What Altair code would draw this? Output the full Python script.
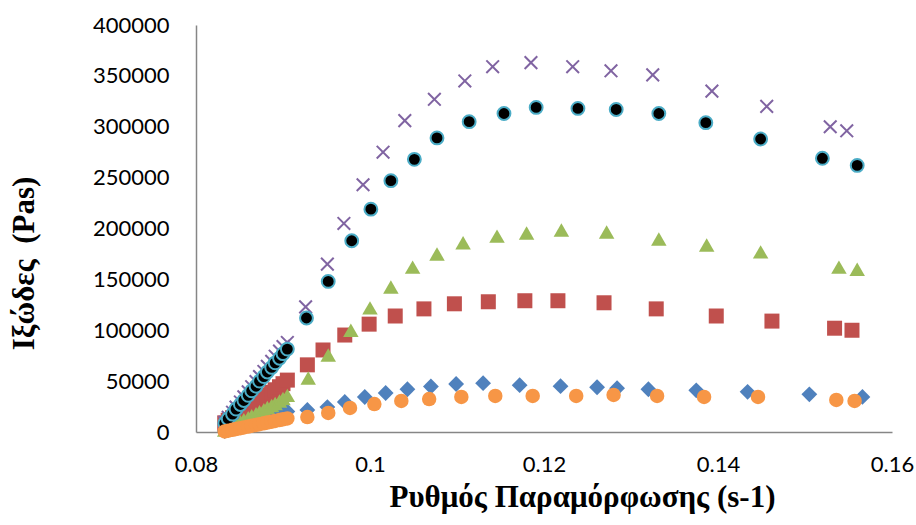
import altair as alt
import pandas as pd

# Cluster (low shear-rate) region x values, then the spread-out points
cl_x = [0.0833, 0.0837, 0.0842, 0.0846, 0.0851, 0.0855, 0.0860, 0.0864, 0.0869,
        0.0873, 0.0878, 0.0882, 0.0887, 0.0891, 0.0896, 0.0900, 0.0905]

blue_x = cl_x + [0.0928, 0.0951, 0.0971, 0.0994, 0.1018, 0.1043, 0.1070, 0.1099, 0.1130,
                 0.1172, 0.1219, 0.1261, 0.1284, 0.1320, 0.1375, 0.1434, 0.1505, 0.1566]
blue_y = [1000, 2300, 3500, 4700, 5800, 7000, 8300, 9500, 10600, 11800, 13000, 14200,
          15500, 16600, 17800, 19000, 20200] + \
         [21600, 24500, 29500, 34400, 38300, 42000, 44700, 47200, 48000,
          46000, 45000, 44000, 43000, 42000, 41000, 39500, 37000, 34500]

red_x = cl_x + [0.0928, 0.0946, 0.0971, 0.0999, 0.1029, 0.1062, 0.1097, 0.1136, 0.1178,
                0.1216, 0.1269, 0.1329, 0.1398, 0.1462, 0.1534, 0.1554]
red_y = [9000, 11500, 14000, 16500, 19000, 21500, 24000, 26500, 29000, 31500, 34000,
         36500, 39000, 41500, 44500, 47500, 51000] + \
        [66000, 80600, 95300, 106000, 114000, 121000, 126000, 128000, 129000,
         129000, 127000, 121000, 114000, 109000, 102000, 100000]

green_x = cl_x + [0.0929, 0.0952, 0.0978, 0.1000, 0.1024, 0.1049, 0.1077, 0.1107, 0.1146,
                  0.1180, 0.1220, 0.1272, 0.1332, 0.1387, 0.1449, 0.1539, 0.1560]
green_y = [2000, 4000, 6000, 8000, 10000, 12000, 14000, 16000, 18000, 20000, 22000,
           24000, 26000, 28000, 30500, 33000, 36000] + \
          [53000, 75700, 100000, 122000, 142500, 162000, 175000, 186000, 192500,
           195500, 198500, 196500, 189700, 183800, 177000, 162000, 160000]

purple_x = cl_x + [0.0926, 0.0951, 0.0970, 0.0992, 0.1015, 0.1040, 0.1074, 0.1109, 0.1141,
                   0.1185, 0.1233, 0.1277, 0.1325, 0.1393, 0.1456, 0.1529, 0.1548]
purple_y = [9500, 14500, 19500, 24500, 29500, 34500, 39500, 44500, 49500, 54500, 59500,
            64500, 69500, 74500, 79500, 84000, 88000] + \
           [123000, 165000, 205000, 243000, 275000, 306000, 327000, 345000, 359000,
            363000, 359000, 355000, 351000, 335000, 320000, 300000, 296000]

black_x = cl_x + [0.0927, 0.0952, 0.0979, 0.1001, 0.1024, 0.1051, 0.1077, 0.1114, 0.1154,
                  0.1191, 0.1239, 0.1283, 0.1332, 0.1386, 0.1449, 0.1520, 0.1560]
black_y = [8500, 13000, 17500, 22500, 27000, 31000, 36000, 40500, 45000, 50000, 54500,
           59000, 63500, 68000, 72500, 77000, 81500] + \
          [112000, 148000, 188000, 219000, 247000, 268000, 289000, 305000, 313000,
           319000, 318000, 317000, 313000, 304000, 288000, 269000, 262000]

orange_x = cl_x + [0.0928, 0.0952, 0.0977, 0.1005, 0.1036, 0.1068, 0.1105, 0.1144, 0.1187,
                   0.1237, 0.1280, 0.1330, 0.1384, 0.1446, 0.1536, 0.1557]
orange_y = [500, 1300, 2100, 2900, 3700, 4500, 5300, 6100, 6900, 7700, 8500, 9300,
            10100, 10900, 11700, 12500, 13300] + \
           [14700, 18700, 23600, 27500, 30500, 32400, 34400, 35400, 35400,
            35400, 36400, 35400, 34400, 34400, 31500, 30500]

x_ticks = [0.08, 0.1, 0.12, 0.14, 0.16]
y_ticks = [0, 50000, 100000, 150000, 200000, 250000, 300000, 350000, 400000]

LABEL_FONT = "Lato"
TITLE_FONT = "Liberation Serif"

x_enc = alt.X("x:Q", scale=alt.Scale(domain=[0.08, 0.16], nice=False, zero=False),
              axis=alt.Axis(values=x_ticks, format="~g", grid=False, ticks=False,
                            domainColor="#868686", domainWidth=1.5,
                            labelFont=LABEL_FONT, labelFontSize=22, labelColor="#000000",
                            labelPadding=22, labelFlush=False,
                            title="Ρυθμός Παραμόρφωσης (s-1)", titleFont=TITLE_FONT,
                            titleFontSize=31, titleFontWeight="bold", titleColor="#000000",
                            titleX=386, titleY=74, titleAlign="center",
                            titleBaseline="alphabetic"))
y_enc = alt.Y("y:Q", scale=alt.Scale(domain=[0, 400000], nice=False),
              axis=alt.Axis(values=y_ticks, format="d", grid=False, ticks=False,
                            domainColor="#868686", domainWidth=1.5,
                            labelFont=LABEL_FONT, labelFontSize=22, labelColor="#000000",
                            labelPadding=27, labelFlush=False,
                            title="Ιξώδες\u00a0 (Pas)", titleFont=TITLE_FONT,
                            titleFontSize=31, titleFontWeight="bold", titleColor="#000000",
                            titleX=-172, titleY=238, titleAngle=270, titleAlign="center",
                            titleBaseline="middle"))


def layer(xs, ys, **mark):
    df = pd.DataFrame({"x": xs, "y": ys})
    return alt.Chart(df).mark_point(**mark).encode(x=x_enc, y=y_enc)


blue = layer(blue_x, blue_y, shape="diamond", filled=True, size=250,
             color="#4F81BD", opacity=1)
red = layer(red_x, red_y, shape="square", filled=True, size=225,
            color="#C0504D", opacity=1)
green = layer(green_x, green_y, shape="triangle-up", filled=True, size=240,
              color="#9BBB59", opacity=1)
purple = layer(purple_x, purple_y, shape="M-1,-1L1,1M-1,1L1,-1", filled=False, size=160,
               stroke="#8064A2", strokeWidth=2, opacity=1)
black = layer(black_x, black_y, shape="circle", filled=True, size=165,
              fill="#000000", stroke="#4BACC6", strokeWidth=2, opacity=1)
orange = layer(orange_x, orange_y, shape="circle", filled=True, size=210,
               color="#F79646", opacity=1)

chart = alt.layer(blue, red, green, purple, black, orange).properties(
    width=696, height=407,
    autosize="none",
    padding={"left": 196, "top": 25, "right": 24, "bottom": 93},
    background="white",
).configure_view(stroke=None)

chart.save("out.html", embed_options={"renderer": "svg", "actions": False})
